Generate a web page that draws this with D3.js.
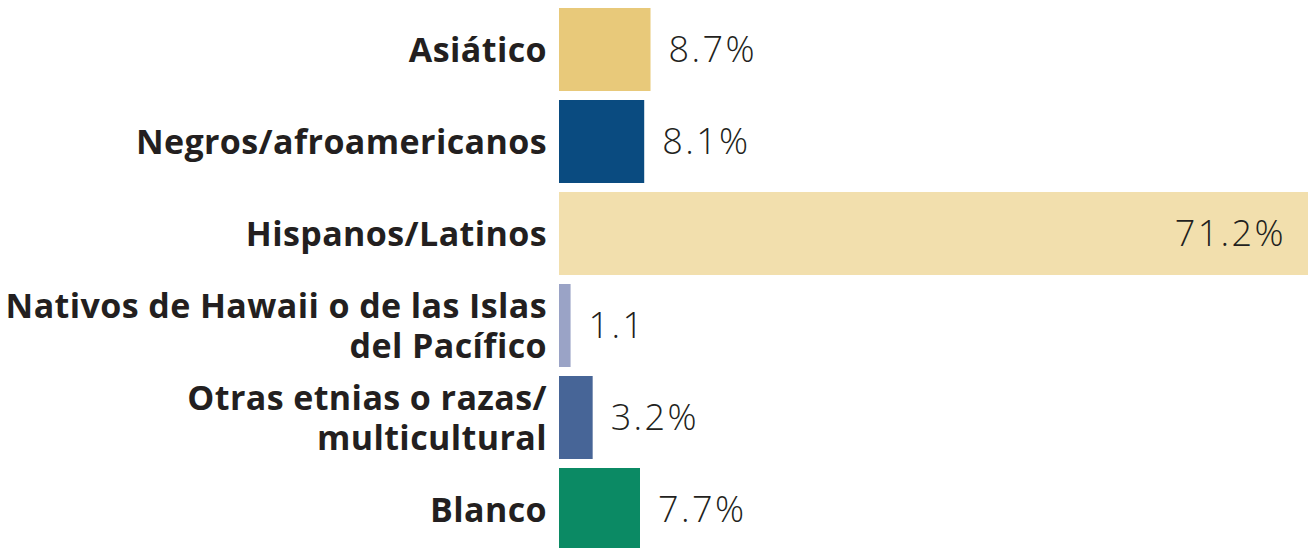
<!DOCTYPE html>
<html>
<head>
<meta charset="utf-8">
<script src="https://cdn.jsdelivr.net/npm/d3@7"></script>
<style>
  body { margin: 0; background: #fff; }
  .label { font-family: "Open Sans", sans-serif; font-weight: 700; font-size: 34px; letter-spacing: 0.4px; fill: #231f20; }
  .value { font-family: "Open Sans", sans-serif; font-weight: 300; font-size: 36px; letter-spacing: 2.4px; fill: #231f20; }
</style>
</head>
<body>
<div id="chart"></div>
<script>
// data
var categories = ["Asiático", "Negros/afroamericanos", "Hispanos/Latinos",
  "Nativos de Hawaii o de las Islas del Pacífico", "Otras etnias o razas/multicultural", "Blanco"];
var labelLines = [["Asiático"], ["Negros/afroamericanos"], ["Hispanos/Latinos"],
  ["Nativos de Hawaii o de las Islas", "del Pacífico"], ["Otras etnias o razas/", "multicultural"], ["Blanco"]];
var values = [8.7, 8.1, 71.2, 1.1, 3.2, 7.7];
var valueLabels = ["8.7%", "8.1%", "71.2%", "1.1", "3.2%", "7.7%"];
var colors = ["#e8c97a", "#0a4b80", "#f2dfad", "#9aa3c6", "#476597", "#0b8a64"];

var width = 1315, height = 548;

var svg = d3.select("#chart").append("svg")
    .attr("width", width)
    .attr("height", height);

var y = d3.scaleBand()
    .domain(categories)
    .range([3.5, 555.5])
    .paddingInner(9 / 92)
    .paddingOuter(4.5 / 92);

var x = d3.scaleLinear()
    .domain([0, d3.max(values)])
    .range([559, 1308]);

var rows = svg.selectAll("g.row")
    .data(categories)
    .enter().append("g")
      .attr("class", "row");

rows.append("rect")
    .attr("x", x(0))
    .attr("y", function(d) { return y(d); })
    .attr("width", function(d, i) { return x(values[i]) - x(0); })
    .attr("height", y.bandwidth())
    .style("fill", function(d, i) { return colors[i]; });

// category labels, right aligned against the bars
rows.append("text")
    .attr("class", "label")
    .attr("text-anchor", "end")
    .each(function(d, i) {
      var lines = labelLines[i],
          cy = y(d) + y.bandwidth() / 2 + 12;
      d3.select(this).selectAll("tspan")
        .data(lines)
        .enter().append("tspan")
          .attr("x", x(0) - 12)
          .attr("y", function(l, j) { return cy + (j - (lines.length - 1) / 2) * 40; })
          .text(function(l) { return l; });
    });

// value labels, inside the bar when it is long
rows.append("text")
    .attr("class", "value")
    .attr("text-anchor", function(d, i) { return values[i] > 50 ? "end" : "start"; })
    .attr("x", function(d, i) { return values[i] > 50 ? x(values[i]) - 22 : x(values[i]) + 18; })
    .attr("y", function(d) { return y(d) + y.bandwidth() / 2 + 12; })
    .text(function(d, i) { return valueLabels[i]; });
</script>
</body>
</html>
